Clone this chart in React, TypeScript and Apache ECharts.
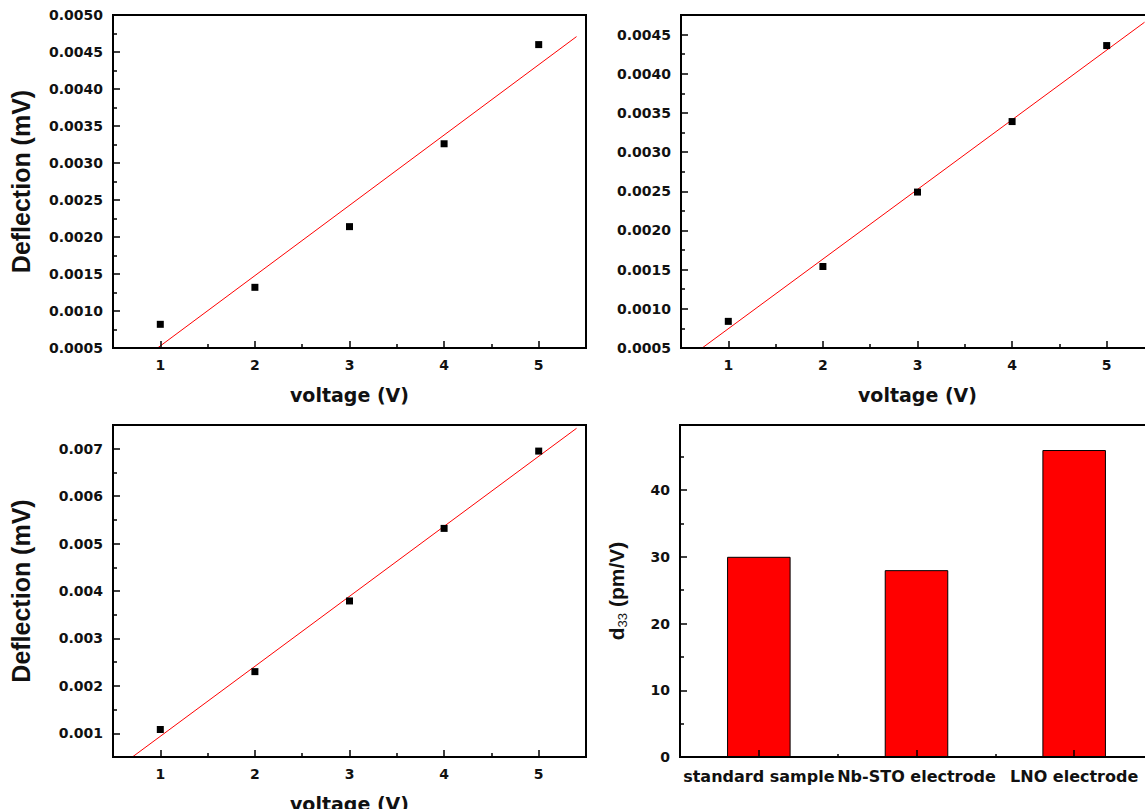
import React, { useEffect, useRef } from "react";
import * as echarts from "echarts";

// ---------- data ----------
const voltage = [1, 2, 3, 4, 5];
const deflectionA = [0.00082, 0.00132, 0.00214, 0.00326, 0.0046];
const deflectionB = [0.00084, 0.00154, 0.00249, 0.00339, 0.00436];
const deflectionC = [0.00108, 0.0023, 0.00379, 0.00532, 0.00695];
const samples = ["standard sample", "Nb-STO electrode", "LNO electrode"];
const d33 = [30, 28, 46];

// tick values
const voltageTicks = [1, 2, 3, 4, 5];
const voltageMinorTicks = [1.5, 2.5, 3.5, 4.5];
const yTicksA = [0.0005, 0.001, 0.0015, 0.002, 0.0025, 0.003, 0.0035, 0.004, 0.0045, 0.005];
const yMinorA = [0.00075, 0.00125, 0.00175, 0.00225, 0.00275, 0.00325, 0.00375, 0.00425, 0.00475];
const yTicksB = [0.0005, 0.001, 0.0015, 0.002, 0.0025, 0.003, 0.0035, 0.004, 0.0045];
const yMinorB = [0.00075, 0.00125, 0.00175, 0.00225, 0.00275, 0.00325, 0.00375, 0.00425];
const yTicksC = [0.001, 0.002, 0.003, 0.004, 0.005, 0.006, 0.007];
const yMinorC = [0.0015, 0.0025, 0.0035, 0.0045, 0.0055, 0.0065];
const yTicksD = [0, 10, 20, 30, 40];
const yMinorD = [5, 15, 25, 35, 45];

// fitted line range (x)
const fitRange = [0.5, 5.4];

function linearFit(xs: number[], ys: number[]) {
  const n = xs.length;
  const mx = xs.reduce((s, v) => s + v, 0) / n;
  const my = ys.reduce((s, v) => s + v, 0) / n;
  let sxy = 0;
  let sxx = 0;
  for (let i = 0; i < n; i++) {
    sxy += (xs[i] - mx) * (ys[i] - my);
    sxx += (xs[i] - mx) * (xs[i] - mx);
  }
  const b = sxy / sxx;
  const a = my - b * mx;
  return fitRange.map((x) => [x, a + b * x]);
}

const TICK_FONT = "'DejaVu Sans', sans-serif";
const TITLE_FONT = "'Liberation Sans', Arial, sans-serif";

function majorAxis(
  gridIndex: number,
  pos: string,
  min: number,
  max: number,
  ticks: number[],
  fmt: (v: number) => string,
  extra: any = {}
) {
  return {
    type: "value",
    gridIndex,
    position: pos,
    min,
    max,
    splitLine: { show: false },
    axisLine: { show: true, onZero: false, lineStyle: { color: "#000", width: 2 } },
    axisTick: {
      show: true,
      inside: true,
      length: 7,
      customValues: ticks,
      lineStyle: { color: "#000", width: 1.5 },
    },
    axisLabel: {
      customValues: ticks,
      formatter: fmt,
      color: "#111",
      fontFamily: TICK_FONT,
      fontWeight: "bold",
      fontSize: 14,
      margin: 10,
    },
    z: 5,
    ...extra,
  };
}

function minorAxis(gridIndex: number, pos: string, min: number, max: number, ticks: number[]) {
  return {
    type: "value",
    gridIndex,
    position: pos,
    min,
    max,
    splitLine: { show: false },
    axisLine: { show: false, onZero: false },
    axisLabel: { show: false },
    axisTick: {
      show: true,
      inside: true,
      length: 4,
      customValues: ticks,
      lineStyle: { color: "#000", width: 1.5 },
    },
    z: 5,
  };
}

const xTitle = {
  name: "voltage (V)",
  nameLocation: "middle",
  nameGap: 37,
  nameTextStyle: { fontFamily: TICK_FONT, fontWeight: "bold", fontSize: 19, color: "#111" },
};

const yTitle = {
  name: "Deflection (mV)",
  nameLocation: "middle",
  nameGap: 80,
  nameTextStyle: { fontFamily: TITLE_FONT, fontWeight: "bold", fontSize: 25, color: "#111" },
};

const f4 = (v: number) => v.toFixed(4);
const f3 = (v: number) => v.toFixed(3);
const f0 = (v: number) => String(Math.round(v));
const fx = (v: number) => String(v);

export default function App() {
  const ref = useRef<HTMLDivElement>(null);

  useEffect(() => {
    if (!ref.current) return;
    const chart = echarts.init(ref.current, undefined, { renderer: "svg" });

    const gridStyle = { show: true, borderColor: "#000", borderWidth: 2, outerBoundsMode: "none", containLabel: false };

    const option: any = {
      animation: false,
      backgroundColor: "#fff",
      grid: [
        { left: 113, top: 15, width: 473, height: 333, ...gridStyle },
        { left: 681, top: 15, width: 473, height: 333, ...gridStyle },
        { left: 113, top: 425, width: 473, height: 332, ...gridStyle },
        { left: 680, top: 425, width: 473, height: 332, ...gridStyle },
      ],
      xAxis: [
        majorAxis(0, "bottom", 0.5, 5.5, voltageTicks, fx, xTitle),
        minorAxis(0, "bottom", 0.5, 5.5, voltageMinorTicks),
        majorAxis(1, "bottom", 0.5, 5.5, voltageTicks, fx, xTitle),
        minorAxis(1, "bottom", 0.5, 5.5, voltageMinorTicks),
        majorAxis(2, "bottom", 0.5, 5.5, voltageTicks, fx, xTitle),
        minorAxis(2, "bottom", 0.5, 5.5, voltageMinorTicks),
        {
          type: "category",
          gridIndex: 3,
          position: "bottom",
          data: samples,
          boundaryGap: true,
          axisLine: { show: true, onZero: false, lineStyle: { color: "#000", width: 2 } },
          axisTick: { show: true, inside: true, length: 7, alignWithLabel: true, lineStyle: { color: "#000", width: 1.5 } },
          axisLabel: {
            color: "#111",
            fontFamily: TICK_FONT,
            fontWeight: "bold",
            fontSize: 16,
            margin: 11,
            interval: 0,
          },
          splitLine: { show: false },
          z: 5,
        },
        {
          type: "category",
          gridIndex: 3,
          position: "bottom",
          data: samples,
          boundaryGap: true,
          axisLine: { show: false },
          axisTick: { show: true, inside: true, length: 3, alignWithLabel: false, lineStyle: { color: "#000", width: 1.5 } },
          axisLabel: { show: false },
          splitLine: { show: false },
          z: 5,
        },
      ],
      yAxis: [
        majorAxis(0, "left", 0.0005, 0.005, yTicksA, f4, yTitle),
        minorAxis(0, "left", 0.0005, 0.005, yMinorA),
        majorAxis(1, "left", 0.0005, 0.00475, yTicksB, f4),
        minorAxis(1, "left", 0.0005, 0.00475, yMinorB),
        majorAxis(2, "left", 0.0005, 0.0075, yTicksC, f3, yTitle),
        minorAxis(2, "left", 0.0005, 0.0075, yMinorC),
        majorAxis(3, "left", 0, 49.75, yTicksD, f0, {
          name: "{d|d}{s|33} (pm/V)",
          nameLocation: "middle",
          nameGap: 51,
          nameTextStyle: {
            fontFamily: TITLE_FONT,
            fontWeight: "bold",
            fontSize: 21,
            color: "#111",
            rich: {
              d: { fontFamily: TITLE_FONT, fontWeight: "bold", fontSize: 21, lineHeight: 26, color: "#111" },
              s: { fontFamily: TITLE_FONT, fontWeight: "normal", fontSize: 13, lineHeight: 13, verticalAlign: "bottom", color: "#111" },
            },
          },
        }),
        minorAxis(3, "left", 0, 49.75, yMinorD),
      ],
      series: [
        {
          type: "line",
          xAxisIndex: 0,
          yAxisIndex: 0,
          data: linearFit(voltage, deflectionA),
          showSymbol: false,
          lineStyle: { color: "#ff0000", width: 1 },
          clip: true,
          z: 2,
        },
        {
          type: "scatter",
          xAxisIndex: 0,
          yAxisIndex: 0,
          data: voltage.map((v, i) => [v, deflectionA[i]]),
          symbol: "rect",
          symbolSize: 7,
          itemStyle: { color: "#000", opacity: 1 },
          z: 3,
        },
        {
          type: "line",
          xAxisIndex: 2,
          yAxisIndex: 2,
          data: linearFit(voltage, deflectionB),
          showSymbol: false,
          lineStyle: { color: "#ff0000", width: 1 },
          clip: true,
          z: 2,
        },
        {
          type: "scatter",
          xAxisIndex: 2,
          yAxisIndex: 2,
          data: voltage.map((v, i) => [v, deflectionB[i]]),
          symbol: "rect",
          symbolSize: 7,
          itemStyle: { color: "#000", opacity: 1 },
          z: 3,
        },
        {
          type: "line",
          xAxisIndex: 4,
          yAxisIndex: 4,
          data: linearFit(voltage, deflectionC),
          showSymbol: false,
          lineStyle: { color: "#ff0000", width: 1 },
          clip: true,
          z: 2,
        },
        {
          type: "scatter",
          xAxisIndex: 4,
          yAxisIndex: 4,
          data: voltage.map((v, i) => [v, deflectionC[i]]),
          symbol: "rect",
          symbolSize: 7,
          itemStyle: { color: "#000", opacity: 1 },
          z: 3,
        },
        {
          type: "bar",
          xAxisIndex: 6,
          yAxisIndex: 6,
          data: d33,
          barWidth: "40.3%",
          itemStyle: { color: "#ff0000", borderColor: "#000", borderWidth: 1 },
          z: 2,
        },
      ],
    };

    chart.setOption(option);
    return () => chart.dispose();
  }, []);

  return (
    <div
      ref={ref}
      style={{ position: "fixed", left: 0, top: 0, width: 1145, height: 809, background: "#fff" }}
    />
  );
}
